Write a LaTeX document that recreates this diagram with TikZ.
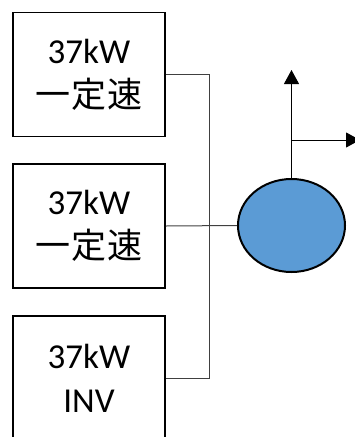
\documentclass[tikz,border=0pt]{standalone}
\usepackage{fontspec}
\setmainfont{Carlito}
\newfontfamily\jpfont{Noto Sans CJK JP}[LetterSpace=4]
\usetikzlibrary{arrows.meta,shapes.geometric}
\definecolor{pumpblue}{HTML}{5B9BD5}

\begin{document}
\begin{tikzpicture}[
  x=1pt,y=-1pt,
  motor/.style={draw,line width=1.8pt,minimum width=152pt,minimum height=124pt,
    align=center,inner sep=0pt,font=\fontsize{35}{44}\selectfont},
  wire/.style={draw=black!75,line width=1pt},
  pump/.style={ellipse,draw,line width=2pt,fill=pumpblue,minimum width=107pt,minimum height=93pt},
  flow/.style={-{Triangle[length=14pt,width=15pt]},line width=1pt}
]
  \useasboundingbox (0,0) rectangle (355,437);

  \node[motor] (m1) at (89,74.5) {37kW\\\jpfont 一定速};
  \node[motor] (m2) at (89,226) {37kW\\\jpfont 一定速};
  \node[motor] (m3) at (89,378) {37kW\\INV};
  \node[pump] (pump) at (291.5,225.5) {};

  \coordinate (up) at (291.5,70);
  \coordinate (tap) at (291.5,140);
  \coordinate (out) at (360,140);

  \draw[wire] (m1.east) -- ++(44,0) |- (m3.east);
  \draw[wire] (m2.east) -- (pump.west);
  \draw[flow] (pump.north) -- (up);
  \draw[flow] (tap) -- (out);
\end{tikzpicture}
\end{document}
